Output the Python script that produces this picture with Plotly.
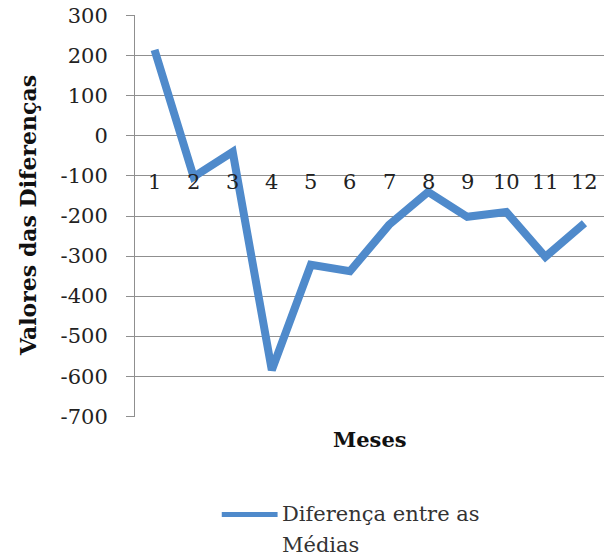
import plotly.graph_objects as go

# Monthly differences between means
meses = list(range(1, 13))
rotulos_meses = [str(m) for m in meses]
diferencas = [215, -102, -40, -585, -322, -338, -222, -140, -202, -190, -302, -218]
y_ticks = [300, 200, 100, 0, -100, -200, -300, -400, -500, -600, -700]

FONT = "DejaVu Serif"
LINE_BLUE = "#4F8ACB"
GRID = "#8F8F8F"

fig = go.Figure()
fig.add_trace(go.Scatter(
    x=meses, y=diferencas, mode="lines",
    line=dict(color=LINE_BLUE, width=8),
    name="Diferença entre as Médias",
    showlegend=False,
))

# Category labels sit next to the -100 gridline, as in the spreadsheet chart
for m, lab in zip(meses, rotulos_meses):
    fig.add_annotation(x=m, y=-115, text=lab, showarrow=False,
                       xanchor="center", yanchor="middle",
                       font=dict(family=FONT, size=21, color="#222222"))

# Axis titles
fig.add_annotation(xref="paper", yref="paper", x=-0.228, y=0.5,
                   text="<b>Valores das Diferenças</b>", textangle=-90,
                   showarrow=False, xanchor="center", yanchor="middle",
                   font=dict(family=FONT, size=22, color="#111111"))
fig.add_annotation(xref="paper", yref="paper", x=0.5, y=-0.055,
                   text="<b>Meses</b>", showarrow=False,
                   xanchor="center", yanchor="middle",
                   font=dict(family=FONT, size=21, color="#111111"))

# Legend drawn below the chart
fig.add_shape(type="line", xref="paper", yref="paper",
              x0=0.185, x1=0.304, y0=-0.2425, y1=-0.2425,
              line=dict(color=LINE_BLUE, width=5))
fig.add_annotation(xref="paper", yref="paper", x=0.31, y=-0.2425,
                   text="Diferença entre as", showarrow=False,
                   xanchor="left", yanchor="middle",
                   font=dict(family=FONT, size=21, color="#333333"))
fig.add_annotation(xref="paper", yref="paper", x=0.31, y=-0.3175,
                   text="Médias", showarrow=False,
                   xanchor="left", yanchor="middle",
                   font=dict(family=FONT, size=21, color="#333333"))

fig.update_xaxes(range=[0.5, 12.5], showticklabels=False, showgrid=False,
                 zeroline=False, showline=False, ticks="")
# Range padded by a hair so the 300 and -700 gridlines are drawn too
fig.update_yaxes(range=[-702, 302], tickvals=y_ticks,
                 ticktext=[str(v) for v in y_ticks],
                 showgrid=True, gridcolor=GRID, gridwidth=1,
                 zeroline=False, showline=True, linecolor=GRID, linewidth=1,
                 ticks="outside", ticklen=8, tickcolor=GRID, tickwidth=1,
                 ticklabelstandoff=14,
                 tickfont=dict(family=FONT, size=21, color="#222222"))

fig.update_layout(
    width=605, height=558,
    margin=dict(l=135, r=1, t=15, b=141),
    paper_bgcolor="white", plot_bgcolor="white",
    showlegend=False,
)

fig.write_html("out.html")
